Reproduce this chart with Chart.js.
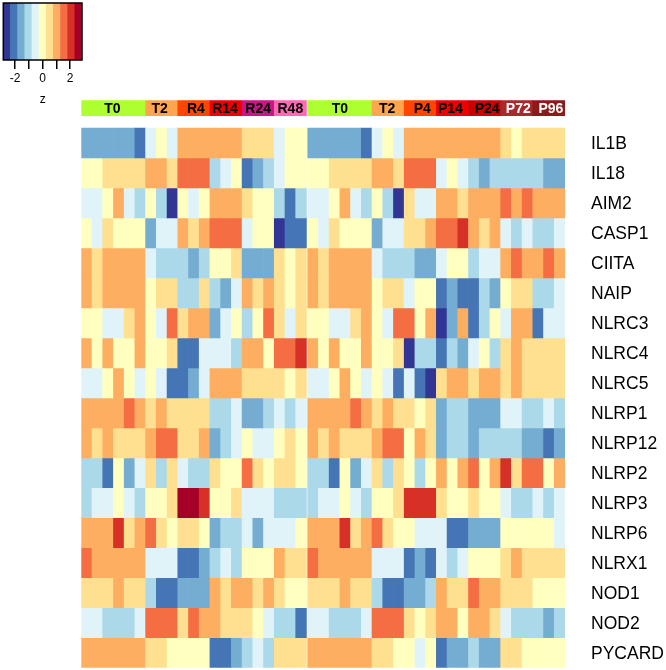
<!DOCTYPE html>
<html>
<head>
<meta charset="utf-8">
<title>Inflammasome heatmap</title>
<script src="https://cdn.jsdelivr.net/npm/chart.js@4"></script>
<style>
  body { margin: 0; background: #fff; }
  canvas { position: absolute; left: 0; top: 0; }
</style>
</head>
<body>
<canvas id="heatmap" width="666" height="670"></canvas>
<canvas id="colorbar" width="110" height="115"></canvas>
<script>
const genes = ["IL1B", "IL18", "AIM2", "CASP1", "CIITA", "NAIP", "NLRC3", "NLRC4", "NLRC5",
  "NLRP1", "NLRP12", "NLRP2", "NLRP3", "NLRP6", "NLRX1", "NOD1", "NOD2", "PYCARD"];

// Column groups, left to right
const groupNames = ["T0", "T2", "R4", "R14", "R24", "R48", "T0", "T2", "P4", "P14", "P24", "P72", "P96"];
const groupSizes = [6, 3, 3, 3, 3, 3, 6, 3, 3, 3, 3, 3, 3];
const groupColors = ["#ADFF2F", "#FFA54F", "#FF4500", "#EE0000", "#C71585", "#FF69B4", "#ADFF2F",
  "#FFA54F", "#FF4500", "#EE0000", "#CD0000", "#A52A2A", "#8B1A1A"];
const groupTextColors = ["#000", "#000", "#000", "#000", "#000", "#000", "#000",
  "#000", "#000", "#000", "#000", "#fff", "#fff"];

// Colour bins: -5 (dark blue) .. 5 (dark red)
const palette = ["#313695", "#4575B4", "#74ADD1", "#ABD9E9", "#E0F3F8", "#FFFFBF",
  "#FEE090", "#FDAE61", "#F46D43", "#D73027", "#A50026"];
const binLevels = [-5, -4, -3, -2, -1, 0, 1, 2, 3, 4, 5];

const IL1B = [-3,-3,-3,-3,-3,-4,-1,0,-1,2,2,2,2,2,2,1,1,1,-1,0,0,
  -3,-3,-3,-3,-3,-4,-1,0,-1,2,2,2,2,2,2,2,2,2,1,0,1,1,1,1];
const IL18 = [0,0,1,1,1,1,2,2,1,3,3,3,-2,-1,0,-4,-3,-2,-1,0,0,
  0,0,1,1,1,1,2,2,1,3,3,3,-1,0,-1,-2,-3,-2,-2,-2,-2,-2,-3,-3];
const AIM2 = [-1,-1,0,2,-1,-2,0,-2,-5,0,-1,0,2,2,2,1,0,0,-2,-4,-2,
  -1,-1,0,2,-1,-2,0,-2,-5,1,-1,-1,2,2,1,2,2,2,3,2,3,2,2,2];
const CASP1 = [0,-1,1,0,0,0,-3,-1,-1,2,1,2,3,3,3,-1,0,0,-5,-4,-4,
  0,-1,1,0,0,0,-3,-1,-1,1,1,2,3,3,4,2,1,2,-1,-2,-1,-2,-2,-1];
const CIITA = [2,1,2,2,2,2,-1,-2,-2,-2,-3,-2,0,0,1,-3,-3,-3,1,0,1,
  2,1,2,2,2,2,-1,-2,-2,-2,-3,-3,-1,0,0,-2,-1,-1,2,3,2,2,3,2];
const NAIP = [2,1,2,2,2,2,0,1,1,-2,-2,1,-2,-3,-1,2,1,2,1,0,1,
  2,1,2,2,2,2,0,1,1,-1,0,0,-4,-3,-4,-4,-2,-3,0,1,1,-2,-2,-1];
const NLRC3 = [0,0,-1,-1,1,2,0,-1,3,1,2,2,-3,-1,0,-2,0,3,1,-1,1,
  0,0,-1,-1,1,2,0,-1,3,3,0,2,-5,-3,2,-4,-2,0,-1,2,2,-4,-1,-1];
const NLRC4 = [2,0,2,0,0,2,0,0,1,-4,-4,-1,-1,-1,-2,2,2,0,3,3,4,
  2,0,2,0,0,2,0,0,1,-5,-2,-2,-4,-2,-3,-1,0,-2,1,2,1,1,1,1];
const NLRC5 = [-1,-1,0,2,0,-1,0,-1,-4,-4,-3,-1,2,2,2,1,1,1,1,0,1,
  -1,-1,0,2,0,-1,0,-1,-4,-1,-4,-5,1,2,2,1,2,2,1,2,1,1,1,1];
const NLRP1 = [2,2,2,2,3,2,1,2,1,1,1,1,-2,-2,-1,-3,-3,-2,-1,-2,-1,
  2,2,2,2,3,2,1,2,1,1,0,1,-3,-2,-2,-3,-3,-3,-1,-1,-2,-2,-1,-2];
const NLRP12 = [2,1,2,1,1,1,2,3,3,1,1,2,-3,-2,-1,0,-1,-1,0,1,0,
  2,1,2,1,1,1,2,3,3,0,2,1,-3,-2,-2,-3,-2,-2,-2,-2,-3,-3,-4,-3];
const NLRP2 = [-2,-2,-4,0,-3,-1,1,-2,1,-1,-2,-2,1,0,0,3,1,0,1,1,0,
  -2,-2,-4,0,-3,-1,1,-2,1,0,-2,0,2,0,2,3,0,2,4,1,3,3,0,2];
const NLRP3 = [-2,-1,-1,0,-1,-2,0,0,1,5,5,4,0,0,1,-1,-1,-1,-2,-2,-2,
  -2,-1,-1,0,-1,-2,0,0,1,4,4,4,1,0,0,1,0,0,-1,-2,-2,-1,-2,-1];
const NLRP6 = [2,2,2,4,1,2,3,1,0,1,1,0,-3,-2,-2,-1,-3,-1,-1,-1,0,
  2,2,2,4,1,2,3,1,0,0,-1,-1,-1,-4,-4,-3,-3,-3,0,0,0,0,0,-1];
const NLRX1 = [3,2,2,2,2,2,-1,-1,-1,-4,-4,-3,-2,-1,-2,0,0,0,2,1,1,
  3,2,2,2,2,2,-1,-1,-1,-4,-3,-4,-1,-2,-1,0,0,0,1,2,1,1,1,1];
const NOD1 = [1,1,1,2,1,1,-2,-4,-4,-3,-3,-3,2,1,2,2,1,2,1,0,0,
  1,1,1,2,1,1,-2,-4,-4,-3,-3,-2,2,1,1,3,2,2,1,1,1,0,0,0];
const NOD2 = [-1,-1,-2,-2,-2,-1,3,3,3,1,3,2,2,1,1,1,0,-1,-2,-2,-4,
  -1,-1,-2,-2,-2,-1,3,3,3,1,0,1,2,2,0,2,2,1,-1,-2,-2,-2,-3,-2];
const PYCARD = [2,2,2,2,2,2,1,1,0,0,0,0,-4,-4,-3,-2,-1,-2,1,1,1,
  2,2,2,2,2,2,1,1,0,0,-1,0,-4,-3,-3,-2,-3,-3,1,1,0,0,0,0];

const rows = [IL1B, IL18, AIM2, CASP1, CIITA, NAIP, NLRC3, NLRC4, NLRC5,
  NLRP1, NLRP12, NLRP2, NLRP3, NLRP6, NLRX1, NOD1, NOD2, PYCARD];

const leftColumns = 21;
const blockGap = 0.12;       // thin white split between the R and P blocks
const bandTop = -0.91;       // annotation strip, in row units above the first row
const bandBottom = -0.41;
const binWidth = 0.52;       // colour key bin width in z
const geneLabelNudge = 0.04; // gene names sit a little under the row centre

// Small nudges in px, the names are not quite centred in the original
const groupLabelShift = [-1, -2, 2, -1, 0, 0, 0, -1, 2, -2, 2.5, 1.5, 2];

// x position of a column, the second block is pushed right by the gap
function columnX(i) {
  return i < leftColumns ? i : i + blockGap;
}

function binColor(level) {
  return palette[level + 5];
}

// One floating bar per cell, one dataset per gene
const heatDatasets = rows.map((values, r) => ({
  data: values.map((v, c) => ({ x: columnX(c), y: [r, r + 1] })),
  backgroundColor: values.map(binColor),
  borderWidth: 0,
  grouped: false,
  barPercentage: 1,
  categoryPercentage: 1
}));

// Annotation strip, same x scale as the cells
const columnGroup = groupSizes.flatMap((n, g) => Array(n).fill(g));
heatDatasets.push({
  data: columnGroup.map((g, c) => ({ x: columnX(c), y: [bandTop, bandBottom] })),
  backgroundColor: columnGroup.map(g => groupColors[g]),
  borderWidth: 0,
  grouped: false,
  barPercentage: 1,
  categoryPercentage: 1
});

// Group names written inside the strip
const groupLabelsPlugin = {
  id: "groupLabels",
  afterDatasetsDraw(chart) {
    const { ctx, scales } = chart;
    ctx.save();
    ctx.font = "bold 14px 'Liberation Sans'";
    ctx.textAlign = "center";
    ctx.textBaseline = "middle";
    let start = 0;
    groupNames.forEach((name, g) => {
      const end = start + groupSizes[g] - 1;
      const x = (scales.x.getPixelForValue(columnX(start)) + scales.x.getPixelForValue(columnX(end))) / 2;
      ctx.fillStyle = groupTextColors[g];
      ctx.fillText(name, x + groupLabelShift[g], scales.y.getPixelForValue((bandTop + bandBottom) / 2) + 0.5);
      start = end + 1;
    });
    ctx.restore();
  }
};

new Chart(document.getElementById("heatmap"), {
  type: "bar",
  data: { datasets: heatDatasets },
  plugins: [groupLabelsPlugin],
  options: {
    responsive: false,
    animation: false,
    layout: { padding: { left: 81.3, top: 98, right: 0, bottom: 2.3 } },
    plugins: { legend: { display: false }, tooltip: { enabled: false } },
    scales: {
      x: { type: "linear", display: false, offset: false, min: -0.5, max: 44.5 + blockGap },
      y: {
        type: "linear",
        position: "right",
        reverse: true,
        min: -1,
        max: rows.length,
        grid: { display: false, drawTicks: false },
        border: { display: false },
        // Fixed width, and no room reserved for the tick padding above and below
        afterFit(scale) {
          scale.width = 101;
          scale.paddingTop = 0;
          scale.paddingBottom = 0;
        },
        afterBuildTicks(scale) {
          scale.ticks = genes.map((g, i) => ({ value: i + 0.5 + geneLabelNudge }));
        },
        ticks: {
          autoSkip: false,
          padding: 26,
          color: "#000",
          font: { family: "'Liberation Sans'", size: 17.5 },
          callback: (value, index) => genes[index]
        }
      }
    }
  }
});

// Frame around the colour key
const keyFramePlugin = {
  id: "keyFrame",
  afterDraw(chart) {
    const { ctx, chartArea } = chart;
    ctx.save();
    ctx.strokeStyle = "#000";
    ctx.lineWidth = 1.5;
    ctx.strokeRect(chartArea.left, chartArea.top, chartArea.right - chartArea.left, chartArea.bottom - chartArea.top);
    ctx.restore();
  }
};

new Chart(document.getElementById("colorbar"), {
  type: "bar",
  data: {
    datasets: [{
      data: binLevels.map(level => ({ x: level * binWidth, y: [0, 1] })),
      backgroundColor: palette,
      borderWidth: 0,
      barPercentage: 1,
      categoryPercentage: 1
    }]
  },
  plugins: [keyFramePlugin],
  options: {
    responsive: false,
    animation: false,
    layout: { padding: { left: 3.3, top: 3, right: 28, bottom: 0 } },
    plugins: { legend: { display: false }, tooltip: { enabled: false } },
    scales: {
      x: {
        type: "linear",
        offset: false,
        min: -5.5 * binWidth,
        max: 5.5 * binWidth,
        afterFit(scale) { scale.height = 55; },
        border: { display: false },
        grid: { drawOnChartArea: false, drawTicks: true, tickLength: 9, tickColor: "#000", lineWidth: 1.5, offset: false },
        ticks: {
          stepSize: 1,
          includeBounds: false,
          autoSkip: false,
          maxRotation: 0,
          padding: 2,
          color: "#000",
          font: { family: "'Liberation Sans'", size: 12 },
          callback: value => (value % 2 === 0 ? String(value) : "")
        },
        title: {
          display: true,
          text: "z",
          color: "#000",
          font: { family: "'Liberation Sans'", size: 12 },
          padding: { top: 10, bottom: 8 }
        }
      },
      y: { display: false, min: 0, max: 1 }
    }
  }
});
</script>
</body>
</html>
